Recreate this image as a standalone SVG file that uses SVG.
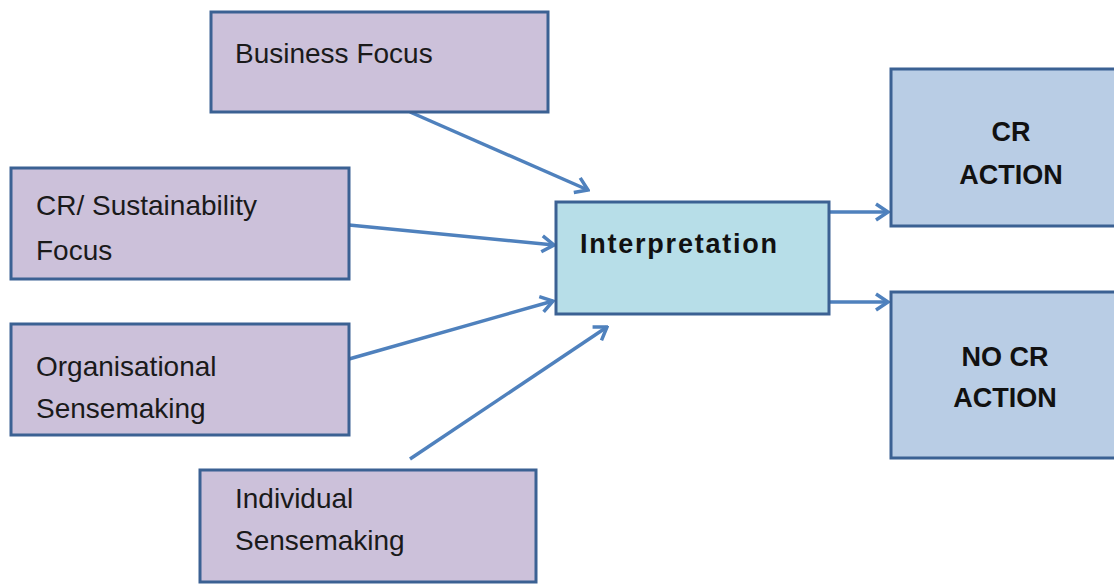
<svg xmlns="http://www.w3.org/2000/svg" width="1114" height="584" viewBox="0 0 1114 584">
<style>
.box{stroke:#3B6193;stroke-width:3}
.src{fill:#CCC1DA}
.mid{fill:#B7DEE8}
.act{fill:#B9CDE5}
.t{font-family:"Liberation Sans",Arial,sans-serif;font-size:28px;fill:#1a1a1a}
.b{font-family:"Liberation Sans",Arial,sans-serif;font-size:27px;font-weight:bold;fill:#111}
.c{stroke:#4F81BD;stroke-width:3.5;fill:none}
</style>
<defs>
<marker id="ah" viewBox="0 0 16 20" refX="14" refY="10" markerWidth="16" markerHeight="20" markerUnits="userSpaceOnUse" orient="auto">
<path d="M2,2 L14,10 L2,18" fill="none" stroke="#4F81BD" stroke-width="3.5" stroke-linejoin="miter"/>
</marker>
</defs>
<rect width="1114" height="584" fill="#fff"/>
<g id="connectors">
<line class="c" x1="410" y1="112" x2="588" y2="190" marker-end="url(#ah)"/>
<line class="c" x1="349" y1="225" x2="554" y2="245" marker-end="url(#ah)"/>
<line class="c" x1="349" y1="359" x2="553" y2="301" marker-end="url(#ah)"/>
<line class="c" x1="410" y1="459" x2="607" y2="327" marker-end="url(#ah)"/>
<line class="c" x1="829" y1="212" x2="888" y2="212" marker-end="url(#ah)"/>
<line class="c" x1="829" y1="302" x2="888" y2="302" marker-end="url(#ah)"/>
</g>
<g id="business-focus">
<rect class="box src" x="211" y="12" width="337" height="100"/>
<text class="t" x="235" y="63">Business Focus</text>
</g>
<g id="cr-sustainability-focus">
<rect class="box src" x="11" y="168" width="338" height="111"/>
<text class="t" x="36" y="215">CR/ Sustainability</text>
<text class="t" x="36" y="260">Focus</text>
</g>
<g id="organisational-sensemaking">
<rect class="box src" x="11" y="324" width="338" height="111"/>
<text class="t" x="36" y="376">Organisational</text>
<text class="t" x="36" y="418">Sensemaking</text>
</g>
<g id="individual-sensemaking">
<rect class="box src" x="200" y="470" width="336" height="112"/>
<text class="t" x="235" y="508">Individual</text>
<text class="t" x="235" y="550">Sensemaking</text>
</g>
<g id="interpretation">
<rect class="box mid" x="556" y="202" width="273" height="112"/>
<text class="b" x="580" y="253" font-size="29" textLength="197" lengthAdjust="spacing">Interpretation</text>
</g>
<g id="cr-action">
<rect class="box act" x="891" y="69" width="240" height="157"/>
<text class="b" x="1011" y="141" text-anchor="middle">CR</text>
<text class="b" x="1011" y="184" text-anchor="middle">ACTION</text>
</g>
<g id="no-cr-action">
<rect class="box act" x="891" y="292" width="240" height="166"/>
<text class="b" x="1005" y="366" text-anchor="middle">NO CR</text>
<text class="b" x="1005" y="407" text-anchor="middle">ACTION</text>
</g>
</svg>
